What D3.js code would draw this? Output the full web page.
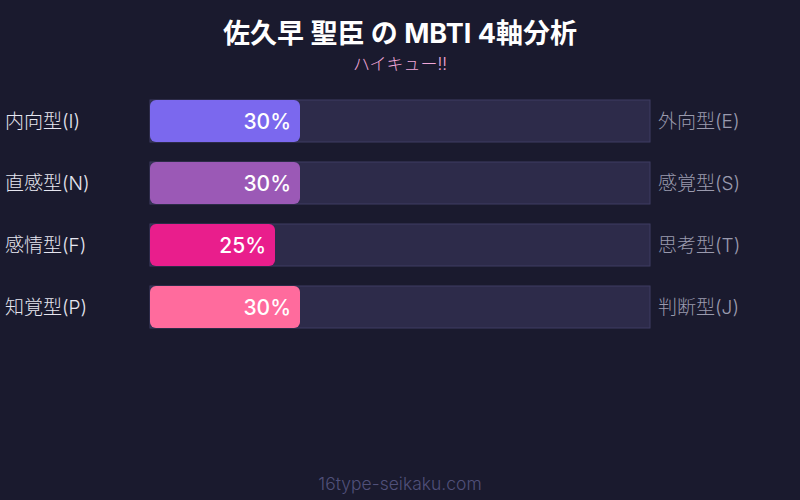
<!DOCTYPE html>
<html>
<head>
<meta charset="utf-8">
<script src="https://cdn.jsdelivr.net/npm/d3@7"></script>
<style>
  body { margin: 0; background: #1a1a2e; }
  svg { display: block; font-family: Inter, "Noto Sans CJK JP", sans-serif; }
</style>
</head>
<body>
<svg></svg>
<script>
var w = 800, h = 500;

var leftLabels = ["内向型(I)", "直感型(N)", "感情型(F)", "知覚型(P)"];
var rightLabels = ["外向型(E)", "感覚型(S)", "思考型(T)", "判断型(J)"];
var values = [30, 30, 25, 30];
var colors = ["#7b68ee", "#9b59b6", "#e91e8c", "#ff6b9d"];

var svg = d3.select("svg").attr("width", w).attr("height", h);

svg.append("rect").attr("width", w).attr("height", h).attr("fill", "#1a1a2e");

svg.append("text")
   .attr("x", w / 2).attr("y", 43)
   .attr("text-anchor", "middle")
   .attr("fill", "#ffffff")
   .attr("font-size", 27).attr("font-weight", "bold")
   .text("佐久早 聖臣 の MBTI 4軸分析");

svg.append("text")
   .attr("x", w / 2).attr("y", 70)
   .attr("text-anchor", "middle")
   .attr("fill", "#f0a6d8")
   .attr("font-size", 17).attr("font-weight", 300)
   .text("ハイキュー!!");

var x = d3.scaleLinear().domain([0, 100]).range([150, 650]);
var y = d3.scaleBand().domain(leftLabels).range([100, 328]).paddingInner(20 / 62);

var rows = svg.append("g").selectAll("g")
              .data(leftLabels)
              .enter()
              .append("g");

// track
rows.append("rect")
    .attr("x", x(0)).attr("y", function(d) { return y(d); })
    .attr("width", x(100) - x(0)).attr("height", y.bandwidth())
    .attr("fill", "#2d2b4a")
    .attr("stroke", "#3e3c62").attr("stroke-width", 1);

// value bar
rows.append("rect")
    .attr("x", x(0)).attr("y", function(d) { return y(d); })
    .attr("width", function(d, i) { return x(values[i]) - x(0); })
    .attr("height", y.bandwidth())
    .attr("rx", 6)
    .attr("fill", function(d, i) { return colors[i]; });

rows.append("text")
    .attr("x", function(d, i) { return x(values[i]) - 9; })
    .attr("y", function(d) { return y(d) + y.bandwidth() / 2 + 8; })
    .attr("text-anchor", "end")
    .attr("fill", "#ffffff")
    .attr("font-size", 21).attr("font-weight", 500)
    .text(function(d, i) { return values[i] + "%"; });

rows.append("text")
    .attr("x", 5)
    .attr("y", function(d) { return y(d) + y.bandwidth() / 2 + 7; })
    .attr("fill", "#e6e6f0")
    .attr("font-size", 19).attr("font-weight", 300)
    .text(function(d) { return d; });

rows.append("text")
    .attr("x", 658)
    .attr("y", function(d) { return y(d) + y.bandwidth() / 2 + 7; })
    .attr("fill", "#9a9aae")
    .attr("font-size", 19).attr("font-weight", 300)
    .text(function(d, i) { return rightLabels[i]; });

svg.append("text")
   .attr("x", w / 2).attr("y", 490)
   .attr("text-anchor", "middle")
   .attr("fill", "#50507a")
   .attr("font-size", 17.5).attr("font-weight", 300)
   .text("16type-seikaku.com");
</script>
</body>
</html>
